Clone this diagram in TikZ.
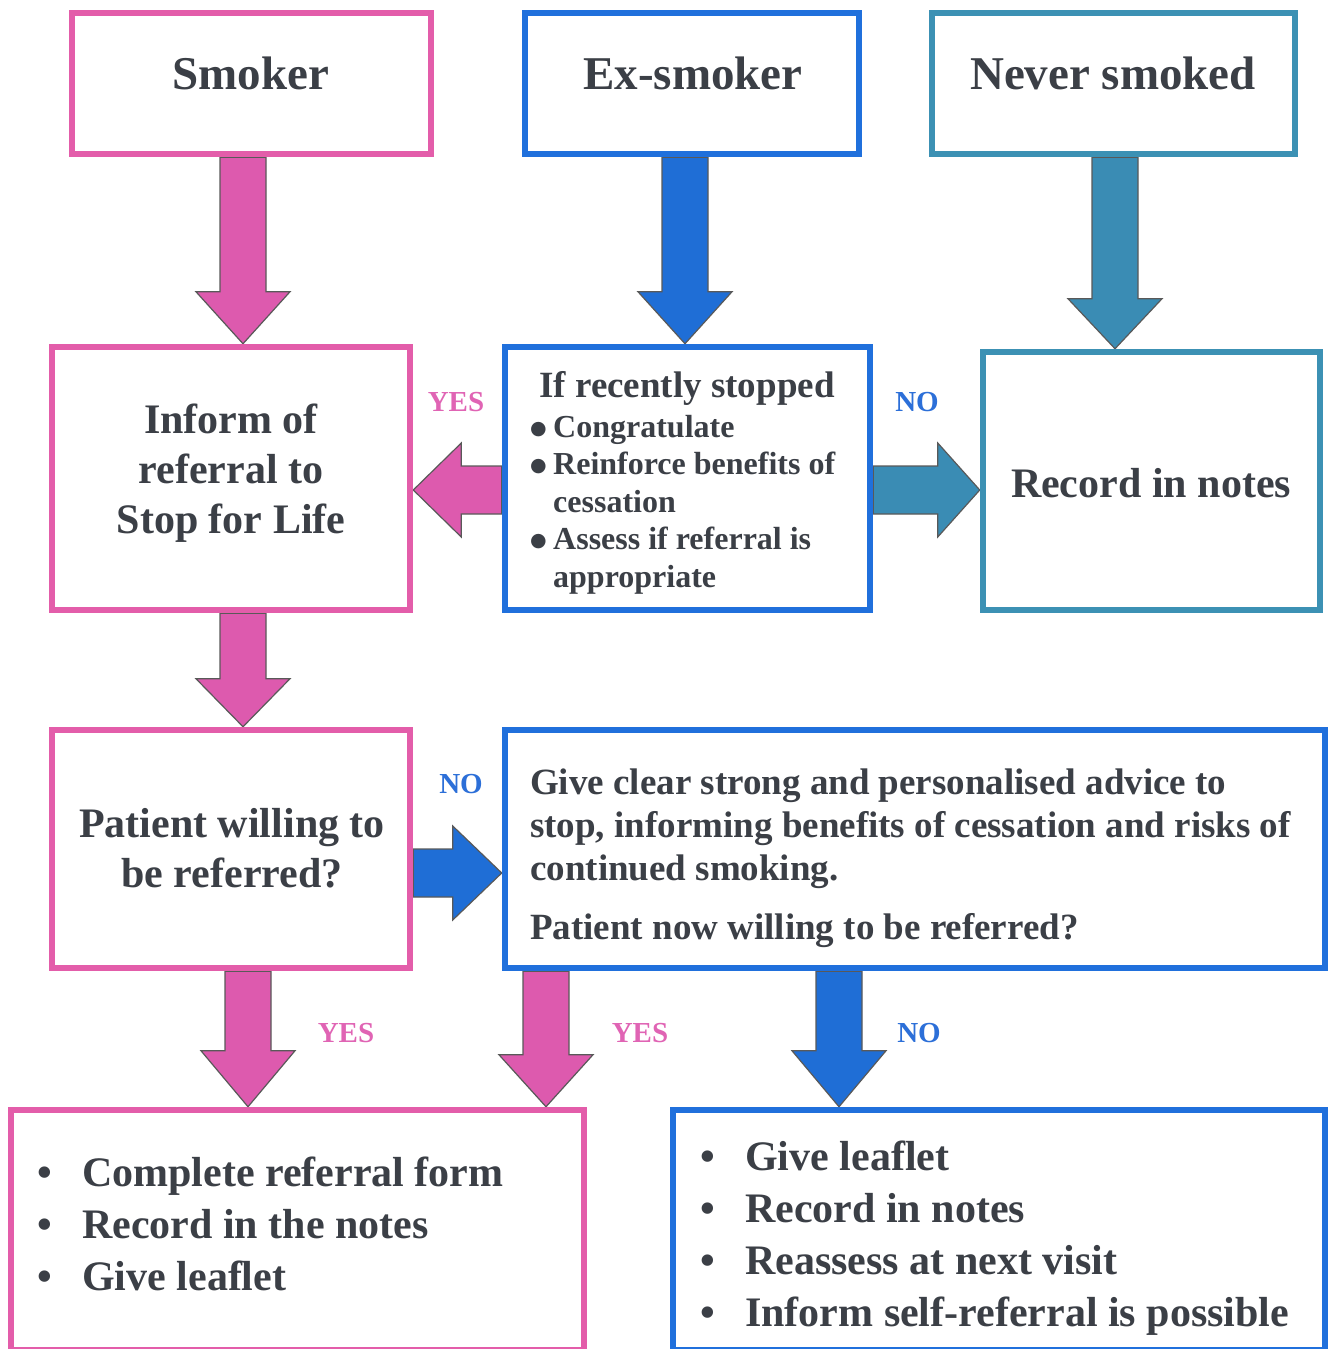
\documentclass[tikz,border=0pt]{standalone}
\usepackage{fontspec}
\setmainfont{Liberation Serif}[BoldFont={Liberation Serif Bold}]
\newfontfamily\dejavu{DejaVu Sans}
\usetikzlibrary{calc,backgrounds}
\definecolor{pk}{HTML}{E35DAA}
\definecolor{pkarrow}{HTML}{DD5AAE}
\definecolor{bl}{HTML}{2070DC}
\definecolor{blarrow}{HTML}{1F6ED6}
\definecolor{tl}{HTML}{3C91B4}
\definecolor{tlarrow}{HTML}{3A8CB4}
\definecolor{txt}{HTML}{3B3F46}
\definecolor{pklab}{HTML}{E064B4}
\definecolor{bllab}{HTML}{2C6FD8}
\newcommand{\fs}[2]{\fontsize{#1}{#2}\selectfont}
\newcommand{\bul}[1]{\makebox[#1][l]{\textbullet}}
\newcommand{\bigbul}[1]{\makebox[#1][l]{\raisebox{3pt}{\dejavu\fontsize{19}{20}\selectfont ●}}}
% vertical fat arrow: style, x, from, to, head length
\newcommand{\arrowdown}[5]{%
  \path (#2,0 |- #3) coordinate (tmpA) (#2,0 |- #4) coordinate (tmpB);
  \draw[fatarrow=#1] ($(tmpA)+(-23,0)$) -- ($(tmpA)+(23,0)$) -- ($(tmpB)+(23,-#5)$)
    -- ($(tmpB)+(47,-#5)$) -- (tmpB) -- ($(tmpB)+(-47,-#5)$) -- ($(tmpB)+(-23,-#5)$) -- cycle;}
\newcommand{\arrowright}[5]{%
  \path (0,#2 -| #3) coordinate (tmpA) (0,#2 -| #4) coordinate (tmpB);
  \draw[fatarrow=#1] ($(tmpA)+(0,-24)$) -- ($(tmpB)+(-#5,-24)$) -- ($(tmpB)+(-#5,-47)$)
    -- (tmpB) -- ($(tmpB)+(-#5,47)$) -- ($(tmpB)+(-#5,24)$) -- ($(tmpA)+(0,24)$) -- cycle;}
\newcommand{\arrowleft}[5]{%
  \path (0,#2 -| #3) coordinate (tmpA) (0,#2 -| #4) coordinate (tmpB);
  \draw[fatarrow=#1] ($(tmpA)+(0,-24)$) -- ($(tmpB)+(#5,-24)$) -- ($(tmpB)+(#5,-47)$)
    -- (tmpB) -- ($(tmpB)+(#5,47)$) -- ($(tmpB)+(#5,24)$) -- ($(tmpA)+(0,24)$) -- cycle;}
\begin{document}
\begin{tikzpicture}[x=1pt,y=-1pt,
  box/.style={draw=#1, line width=6.5pt, fill=white, inner sep=0pt},
  fatarrow/.style={fill=#1, draw=black!65, line width=1.2pt, line join=miter},
  t/.style={text=txt, inner sep=0pt},
  lab/.style={text=#1, inner sep=0pt, anchor=base, font=\fs{29}{34}\bfseries}]
\useasboundingbox (0,0) rectangle (1330,1349);
% boxes
\node[box=pk, minimum width=359pt, minimum height=141pt] (smoker) at (251.5,83.5) {};
\node[box=bl, minimum width=334pt, minimum height=141pt] (exsmoker) at (692,83.5) {};
\node[box=tl, minimum width=363pt, minimum height=141pt] (never) at (1113.5,83.5) {};
\node[box=pk, minimum width=358pt, minimum height=263pt] (inform) at (231,478.5) {};
\node[box=bl, minimum width=365pt, minimum height=263pt] (ifrec) at (687.5,478.5) {};
\node[box=tl, minimum width=337pt, minimum height=258pt] (record) at (1151.5,481) {};
\node[box=pk, minimum width=358pt, minimum height=238pt] (patient) at (231,849) {};
\node[box=bl, minimum width=820pt, minimum height=238pt] (give) at (915,849) {};
\node[box=pk, minimum width=573pt, minimum height=240pt] (bleft) at (297.5,1230) {};
\node[box=bl, minimum width=652pt, minimum height=240pt] (bright) at (999,1230) {};
% arrows
\begin{scope}[on background layer]
\arrowdown{pkarrow}{243}{smoker.south}{inform.north}{52}
\arrowdown{blarrow}{685}{exsmoker.south}{ifrec.north}{52}
\arrowdown{tlarrow}{1115}{never.south}{record.north}{50}
\arrowdown{pkarrow}{243}{inform.south}{patient.north}{48}
\arrowdown{pkarrow}{248}{patient.south}{bleft.north}{56}
\arrowdown{pkarrow}{546}{give.south}{bleft.north}{52}
\arrowdown{blarrow}{839}{give.south}{bright.north}{56}
\arrowleft{pkarrow}{490}{ifrec.west}{inform.east}{48}
\arrowright{tlarrow}{490}{ifrec.east}{record.west}{42}
\arrowright{blarrow}{873}{patient.east}{give.west}{49}
\end{scope}
% texts
\node[t, anchor=base, font=\fs{47}{56}\bfseries] (smokerT) at (251,89) {Smoker};
\node[t, anchor=base, font=\fs{47}{56}\bfseries] (exsmokerT) at (693,89) {Ex-smoker};
\node[t, anchor=base, font=\fs{47}{56}\bfseries] (neverT) at (1113,89) {Never smoked};
\node[t, anchor=base, font=\fs{42}{50}\bfseries] (informT) at (231,433)
  {\begin{tabular}[t]{@{}c@{}}Inform of\\referral to\\Stop for Life\end{tabular}};
\node[t, anchor=base, font=\fs{37}{44}\bfseries] (ifrecT) at (687,397) {If recently stopped};
\node[t, anchor=base west, font=\fs{32}{37.5}\bfseries] (ifrecL) at (530,437)
  {\begin{tabular}[t]{@{}l@{}}\bigbul{23pt}Congratulate\\\bigbul{23pt}Reinforce benefits of\\\hspace*{23pt}cessation\\\bigbul{23pt}Assess if referral is\\\hspace*{23pt}appropriate\end{tabular}};
\node[t, anchor=base, font=\fs{42}{50}\bfseries] (recordT) at (1151,497) {Record in notes};
\node[t, anchor=base, font=\fs{42}{50}\bfseries] (patientT) at (232,837)
  {\begin{tabular}[t]{@{}c@{}}Patient willing to\\be referred?\end{tabular}};
\node[t, anchor=base west, font=\fs{37}{43}\bfseries] (giveT) at (530,794)
  {\begin{tabular}[t]{@{}l@{}}Give clear strong and personalised advice to\\stop, informing benefits of cessation and risks of\\continued smoking.\\[16pt]Patient now willing to be referred?\end{tabular}};
\node[t, anchor=base west, font=\fs{42}{52}\bfseries] (bleftT) at (37,1186)
  {\begin{tabular}[t]{@{}l@{}}\bul{45pt}Complete referral form\\\bul{45pt}Record in the notes\\\bul{45pt}Give leaflet\end{tabular}};
\node[t, anchor=base west, font=\fs{42}{52}\bfseries] (brightT) at (700,1170)
  {\begin{tabular}[t]{@{}l@{}}\bul{45pt}Give leaflet\\\bul{45pt}Record in notes\\\bul{45pt}Reassess at next visit\\\bul{45pt}Inform self-referral is possible\end{tabular}};
% labels
\node[lab=pklab] (l1) at (456,411) {YES};
\node[lab=bllab] (l2) at (917,411) {NO};
\node[lab=bllab] (l3) at (461,793) {NO};
\node[lab=pklab] (l4) at (346,1042) {YES};
\node[lab=pklab] (l5) at (640,1042) {YES};
\node[lab=bllab] (l6) at (919,1042) {NO};
\end{tikzpicture}
\end{document}
